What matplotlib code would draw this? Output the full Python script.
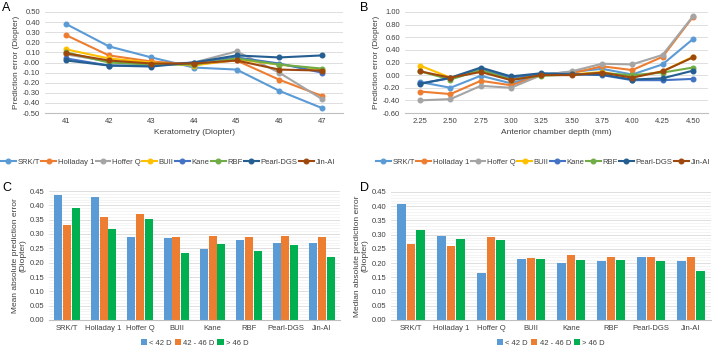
import matplotlib.pyplot as plt
import numpy as np

plt.rcParams['font.family'] = ['Liberation Sans', 'DejaVu Sans']

formulas = ['SRK/T', 'Holladay 1', 'Hoffer Q', 'BUII', 'Kane', 'RBF', 'Pearl-DGS', 'Jin-AI']
line_colors = ['#5B9BD5', '#ED7D31', '#A5A5A5', '#FFC000', '#4472C4', '#70AD47', '#255E91', '#9E480E']

# Panel A: prediction error by keratometry
k_values = [41, 42, 43, 44, 45, 46, 47]
err_k = {
    'SRK/T':      [0.38, 0.16, 0.05, -0.05, -0.07, -0.28, -0.45],
    'Holladay 1': [0.27, 0.07, 0.01, -0.02, 0.02, -0.17, -0.33],
    'Hoffer Q':   [0.08, 0.01, -0.02, 0.00, 0.11, -0.10, -0.36],
    'BUII':       [0.13, 0.04, 0.00, -0.03, 0.03, -0.02, -0.07],
    'Kane':       [0.04, -0.03, -0.03, 0.00, 0.05, -0.01, -0.10],
    'RBF':        [0.10, 0.00, -0.02, -0.02, 0.04, -0.02, -0.06],
    'Pearl-DGS':  [0.02, -0.03, -0.04, 0.00, 0.07, 0.05, 0.07],
    'Jin-AI':     [0.09, 0.02, -0.01, -0.01, 0.02, -0.07, -0.08],
}

# Panel B: prediction error by anterior chamber depth
acd_labels = ['2.25', '2.50', '2.75', '3.00', '3.25', '3.50', '3.75', '4.00', '4.25', '4.50']
err_acd = {
    'SRK/T':      [-0.11, -0.20, -0.01, -0.13, 0.01, 0.05, 0.10, 0.01, 0.17, 0.57],
    'Holladay 1': [-0.26, -0.30, -0.09, -0.16, 0.00, 0.03, 0.14, 0.08, 0.29, 0.92],
    'Hoffer Q':   [-0.40, -0.38, -0.17, -0.20, 0.00, 0.06, 0.18, 0.17, 0.32, 0.93],
    'BUII':       [0.15, -0.04, 0.08, -0.06, 0.01, 0.01, 0.05, -0.03, 0.06, 0.29],
    'Kane':       [-0.13, -0.05, 0.09, -0.04, 0.02, 0.02, 0.00, -0.08, -0.08, -0.06],
    'RBF':        [0.06, -0.07, 0.08, -0.07, -0.01, 0.01, 0.03, 0.00, 0.04, 0.12],
    'Pearl-DGS':  [-0.14, -0.04, 0.12, -0.02, 0.03, 0.01, 0.01, -0.07, -0.05, 0.07],
    'Jin-AI':     [0.06, -0.04, 0.05, -0.08, 0.00, 0.00, 0.04, -0.04, 0.06, 0.28],
}

# Panels C and D: absolute errors by keratometry group
groups = ['< 42 D', '42 - 46 D', '> 46 D']
bar_colors = ['#5B9BD5', '#ED7D31', '#00B050']
mae = [
    [0.437, 0.430, 0.290, 0.287, 0.248, 0.279, 0.270, 0.270],
    [0.333, 0.358, 0.371, 0.290, 0.294, 0.290, 0.294, 0.288],
    [0.390, 0.317, 0.351, 0.235, 0.264, 0.240, 0.261, 0.221],
]
medae = [
    [0.407, 0.296, 0.165, 0.213, 0.200, 0.209, 0.221, 0.209],
    [0.268, 0.259, 0.292, 0.218, 0.229, 0.221, 0.223, 0.221],
    [0.316, 0.284, 0.281, 0.214, 0.211, 0.211, 0.207, 0.172],
]

W, H = 716, 350
fig = plt.figure(figsize=(W / 100, H / 100), dpi=100)


def px_axes(x0, y0, x1, y1):
    return fig.add_axes([x0 / W, 1 - y1 / H, (x1 - x0) / W, (y1 - y0) / H])


def style(ax):
    for s in ['top', 'right', 'left']:
        ax.spines[s].set_visible(False)
    ax.spines['bottom'].set_color('#BFBFBF')
    ax.tick_params(length=0, labelsize=5.5, colors='#404040')
    ax.set_axisbelow(True)
    ax.grid(axis='y', color='#D9D9D9', linewidth=0.6)


def line_panel(ax, xs, data, ylim, yticks, xlabel, ylabel, legend_x):
    for name, c in zip(formulas, line_colors):
        ax.plot(xs, data[name], color=c, marker='o', markersize=3.3, linewidth=1.5, label=name)
    ax.set_ylim(*ylim)
    ax.set_yticks(yticks)
    ax.set_yticklabels([f'{v:.2f}' for v in yticks])
    ax.set_xlim(xs[0] - 0.5, xs[-1] + 0.5)
    ax.set_xlabel(xlabel, fontsize=6, color='#404040', labelpad=3)
    ax.set_ylabel(ylabel, fontsize=6, color='#404040', labelpad=2)
    style(ax)
    ax.legend(loc='center', bbox_to_anchor=(legend_x / W, 1 - 162 / H), bbox_transform=fig.transFigure,
              ncol=8, frameon=False, fontsize=5.5, borderpad=0, borderaxespad=0,
              handlelength=1.9, handletextpad=0.25, columnspacing=0.2, labelcolor='#404040')


axA = px_axes(45, 12, 343, 113)
line_panel(axA, np.arange(len(k_values)), err_k, (-0.5, 0.5), np.round(np.arange(-0.5, 0.51, 0.1), 2),
           'Keratometry (Diopter)', 'Prediction error (Diopter)', 168)
axA.set_xticks(np.arange(len(k_values)))
axA.set_xticklabels([str(k) for k in k_values])

axB = px_axes(405, 12, 708, 113)
line_panel(axB, np.arange(len(acd_labels)), err_acd, (-0.6, 1.0), np.round(np.arange(-0.6, 1.01, 0.2), 2),
           'Anterior chamber depth (mm)', 'Prediction error (Diopter)', 543)
axB.set_xticks(np.arange(len(acd_labels)))
axB.set_xticklabels(acd_labels)


def bar_panel(ax, data, ylabel):
    x = np.arange(len(formulas))
    w = 0.22
    for i, (g, c) in enumerate(zip(groups, bar_colors)):
        ax.bar(x + (i - 1) * (w + 0.02), data[i], width=w, color=c, label=g)
    ax.set_xlim(-0.5, len(formulas) - 0.5)
    ax.set_ylim(0, 0.45)
    yt = np.round(np.arange(0, 0.451, 0.05), 2)
    ax.set_yticks(yt)
    ax.set_yticklabels([f'{v:.2f}' for v in yt])
    ax.set_yticks(np.arange(0, 0.451, 0.01), minor=True)
    ax.set_xticks(x)
    ax.set_xticklabels(formulas)
    style(ax)
    ax.tick_params(which='minor', length=0)
    ax.grid(axis='y', which='minor', color='#EDEDED', linewidth=0.4)
    ax.set_ylabel(ylabel, fontsize=6, color='#404040', labelpad=2)
    ax.legend(loc='center', bbox_to_anchor=(0.5, -0.18), ncol=3, frameon=False, fontsize=5.5,
              handlelength=0.8, handleheight=0.8, handletextpad=0.3, columnspacing=0.4, labelcolor='#404040')


axC = px_axes(49, 191, 340, 320)
bar_panel(axC, mae, 'Mean absolute prediction error\n(Diopter)')

axD = px_axes(391, 192, 711, 320)
bar_panel(axD, medae, 'Median absolute prediction error\n(Diopter)')

for lab, x, y in [('A', 2, 2), ('B', 360, 2), ('C', 2, 182), ('D', 360, 182)]:
    fig.text(x / W, 1 - y / H, lab, fontsize=9, va='top', ha='left', color='black')

fig.savefig('out.png', dpi=100)
